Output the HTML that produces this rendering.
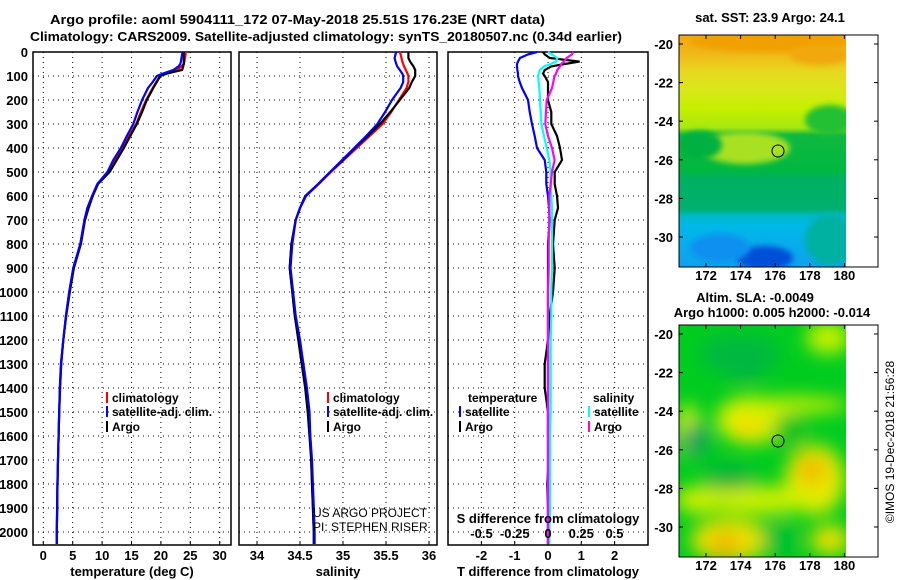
<!DOCTYPE html>
<html><head><meta charset="utf-8">
<style>
html,body{margin:0;padding:0;background:#fff;}
svg{display:block;font-family:"Liberation Sans",Arial,sans-serif;}
.t{font-weight:bold;font-size:13px;fill:#000;}
.s{font-weight:bold;font-size:12px;fill:#000;}
</style></head>
<body>
<svg id="fig" width="900" height="580" viewBox="0 0 900 580" xmlns="http://www.w3.org/2000/svg">
<defs>
<filter id="bl" x="-50%" y="-50%" width="200%" height="200%"><feGaussianBlur stdDeviation="9"/></filter>
<filter id="bl2" x="-50%" y="-50%" width="200%" height="200%"><feGaussianBlur stdDeviation="3"/></filter>
<clipPath id="c1"><rect x="679" y="35" width="167" height="232"/></clipPath>
<clipPath id="c2"><rect x="679" y="325" width="167" height="232"/></clipPath>
<linearGradient id="sst" x1="0" y1="0" x2="0" y2="1">
<stop offset="0" stop-color="#f2a810"/><stop offset="0.08" stop-color="#f0b818"/>
<stop offset="0.16" stop-color="#e8d820"/><stop offset="0.24" stop-color="#d8e818"/>
<stop offset="0.32" stop-color="#c4f000"/>
<stop offset="0.4" stop-color="#a8e810"/><stop offset="0.43" stop-color="#10b840"/>
<stop offset="0.58" stop-color="#00b840"/><stop offset="0.62" stop-color="#00b060"/>
<stop offset="0.75" stop-color="#00b070"/><stop offset="0.78" stop-color="#00b8c8"/>
<stop offset="0.82" stop-color="#00b8e8"/><stop offset="1" stop-color="#10a0f0"/>
</linearGradient>
</defs>
<rect x="0" y="0" width="900" height="580" fill="#fff"/>
<text class="t" x="50" y="24" textLength="495" lengthAdjust="spacingAndGlyphs">Argo profile: aoml 5904111_172 07-May-2018 25.51S 176.23E (NRT data)</text>
<text class="t" x="30" y="41" textLength="592" lengthAdjust="spacingAndGlyphs">Climatology: CARS2009. Satellite-adjusted climatology: synTS_20180507.nc (0.34d earlier)</text>

<g id="p1"></g>
<g id="p2"></g>
<g id="p3"></g>

<!-- SST map -->
<g>
<text class="t" x="770" y="22" text-anchor="middle">sat. SST: 23.9 Argo: 24.1</text>
<g clip-path="url(#c1)">
<rect x="679" y="35" width="167" height="232" fill="url(#sst)"/>
<ellipse cx="745" cy="148" rx="45" ry="16" fill="#a8e020" filter="url(#bl2)"/>
<ellipse cx="700" cy="145" rx="22" ry="14" fill="#00b040" filter="url(#bl2)"/>
<ellipse cx="830" cy="120" rx="25" ry="15" fill="#20c030" filter="url(#bl2)"/>
<ellipse cx="770" cy="42" rx="80" ry="10" fill="#f0a000" filter="url(#bl2)"/>
<ellipse cx="820" cy="55" rx="30" ry="10" fill="#f0a810" filter="url(#bl2)"/>
<ellipse cx="765" cy="258" rx="28" ry="12" fill="#0050d8" filter="url(#bl2)"/>
<ellipse cx="720" cy="248" rx="30" ry="14" fill="#1090f0" filter="url(#bl2)"/>
<ellipse cx="830" cy="240" rx="25" ry="25" fill="#00b0a0" filter="url(#bl2)"/>
</g>
<rect x="846" y="35" width="32" height="232" fill="#fff"/>
<rect x="679" y="35" width="199" height="232" fill="none" stroke="#000" stroke-width="1"/>
<circle cx="778" cy="151" r="6" fill="none" stroke="#000" stroke-width="1"/>
</g>
<!-- SLA map -->
<g>
<text class="t" x="755" y="302" text-anchor="middle">Altim. SLA: -0.0049</text>
<text class="t" x="772" y="317" text-anchor="middle">Argo h1000: 0.005 h2000: -0.014</text>
<g clip-path="url(#c2)">
<rect x="679" y="325" width="167" height="232" fill="#00cc20"/>
<g filter="url(#bl)">
<ellipse cx="752" cy="420" rx="36" ry="24" fill="#d8f000"/>
<ellipse cx="748" cy="428" rx="16" ry="13" fill="#f0e000"/>
<ellipse cx="688" cy="430" rx="12" ry="26" fill="#d8f000"/>
<ellipse cx="795" cy="405" rx="55" ry="8" fill="#c8f000"/>
<ellipse cx="828" cy="338" rx="22" ry="16" fill="#c8f000"/>
<ellipse cx="815" cy="480" rx="30" ry="35" fill="#e8e800"/>
<ellipse cx="812" cy="470" rx="14" ry="14" fill="#f0b800"/>
<ellipse cx="760" cy="500" rx="60" ry="14" fill="#d0f000"/>
<ellipse cx="700" cy="500" rx="25" ry="14" fill="#d0f000"/>
<ellipse cx="730" cy="540" rx="40" ry="22" fill="#e8e000"/>
<ellipse cx="725" cy="545" rx="14" ry="12" fill="#f0b000"/>
<ellipse cx="830" cy="540" rx="20" ry="15" fill="#e8e000"/>
<ellipse cx="780" cy="540" rx="18" ry="18" fill="#00c030"/>
<ellipse cx="745" cy="365" rx="20" ry="14" fill="#00a060"/>
<ellipse cx="740" cy="355" rx="40" ry="20" fill="#00b840"/>
<ellipse cx="695" cy="440" rx="14" ry="16" fill="#10a060"/>
<ellipse cx="730" cy="478" rx="25" ry="12" fill="#00b040"/>
<ellipse cx="790" cy="430" rx="16" ry="16" fill="#00c020"/>
</g>
</g>
<rect x="846" y="325" width="32" height="232" fill="#fff"/>
<rect x="679" y="325" width="199" height="232" fill="none" stroke="#000" stroke-width="1"/>
<circle cx="778" cy="441" r="6" fill="none" stroke="#000" stroke-width="1"/>
</g>
<g id="maxes"></g>
<text class="s" transform="translate(894,442) rotate(-90)" text-anchor="middle" style="font-weight:normal;font-size:12px">©IMOS 19-Dec-2018 21:56:28</text>
</svg>
<script>
const depths = [0,10,25,40,50,60,75,90,100,125,150,200,250,300,350,400,450,500,550,600,650,700,800,900,1000,1100,1200,1300,1400,1500,1600,1700,1800,1900,2000,2050];
const tempClim = [24.2,24.2,24.1,24.0,23.9,23.5,22.7,21.0,19.8,19.2,18.6,17.5,16.6,15.8,14.6,13.5,12.2,11.1,9.2,8.3,7.5,7.0,6.3,5.1,4.4,3.85,3.4,3.05,2.85,2.7,2.6,2.5,2.42,2.36,2.3,2.3];
const tempSat = [23.7,23.6,23.5,23.4,23.3,23.0,22.1,20.3,19.3,18.6,17.8,16.8,16.0,15.3,14.2,13.2,11.9,10.9,9.2,8.3,7.5,7.0,6.3,5.1,4.4,3.85,3.4,3.05,2.85,2.7,2.6,2.5,2.42,2.36,2.3,2.3];
const tempArgo = [23.9,23.9,23.9,23.9,23.9,23.8,23.6,21.0,19.9,19.3,18.7,17.6,16.8,15.9,14.8,13.7,12.5,11.3,9.3,8.4,7.7,7.1,6.4,5.2,4.5,3.9,3.4,3.0,2.8,2.7,2.6,2.5,2.4,2.35,2.3,2.3];
const salClim = [35.66,35.67,35.68,35.69,35.7,35.71,35.73,35.75,35.76,35.76,35.74,35.65,35.56,35.46,35.31,35.16,35.01,34.86,34.72,34.57,34.5,34.45,34.4,34.38,34.41,34.44,34.49,34.53,34.57,34.6,34.62,34.63,34.64,34.65,34.66,34.66];
const salSat = [35.62,35.61,35.6,35.61,35.62,35.63,35.66,35.69,35.7,35.7,35.67,35.57,35.49,35.4,35.27,35.13,34.99,34.85,34.71,34.57,34.5,34.45,34.41,34.39,34.42,34.45,34.5,34.54,34.58,34.61,34.62,34.64,34.65,34.66,34.67,34.67];
const salArgo = [35.76,35.76,35.76,35.78,35.8,35.82,35.84,35.84,35.84,35.8,35.77,35.66,35.55,35.43,35.29,35.14,35.0,34.85,34.71,34.56,34.5,34.45,34.4,34.38,34.41,34.44,34.48,34.52,34.56,34.59,34.61,34.63,34.64,34.65,34.66,34.66];
const dTsat = [-0.33,-0.6,-0.84,-0.9,-0.93,-0.93,-0.92,-0.9,-0.9,-0.85,-0.78,-0.6,-0.55,-0.48,-0.4,-0.33,-0.1,-0.05,-0.05,0,0.03,0.05,0,0,0,0,0,0,0,0,0,0,0,0,0,0];
const dTargo = [-0.15,-0.1,0.05,0.95,0.5,0.1,-0.1,-0.15,-0.1,0,0,0,0.1,0.1,0.27,0.36,0.42,0.2,0.2,0.27,0.3,0.2,0.15,0.2,0.15,0.05,0,-0.1,-0.1,0,0,0.02,-0.02,0,0,0];
const dSsat = [0,0.03,0.07,0.06,0.02,-0.03,-0.06,-0.07,-0.075,-0.07,-0.065,-0.06,-0.055,-0.05,-0.03,-0.01,0.01,0.02,0.02,0.025,0.03,0.03,0.03,0.03,0.025,0.025,0.02,0.02,0.02,0.02,0.015,0.015,0.015,0.015,0.01,0.01];
const dSargo = [0.19,0.18,0.14,0.12,0.1,0.09,0.07,0.06,0.05,0.04,0.03,-0.01,-0.015,-0.02,0,0.03,0.05,0.03,0.02,0.01,0.01,0.01,0.005,0.005,0,0,0,0,0,0,0,0,0,0,0,0];
const depthTicks = [0,100,200,300,400,500,600,700,800,900,1000,1100,1200,1300,1400,1500,1600,1700,1800,1900,2000];
const tempTicks = [0,5,10,15,20,25,30];
const salTicks = [34,34.5,35,35.5,36];
const salTickLabels = ["34","34.5","35","35.5","36"];
const dTTicks = [-2,-1,0,1,2];
const dSTicks = [-0.5,-0.25,0,0.25,0.5];
const dSTickLabels = ["-0.5","-0.25","0","0.25","0.5"];
const latTicks = [-20,-22,-24,-26,-28,-30];
const lonTicks = [172,174,176,178,180];

const NS='http://www.w3.org/2000/svg';
const yD = d => 52 + d*0.24;
const xT = t => 43.3 + t*5.88;
const xS = s => 257 + (s-34)*86;
const xDT = t => 548 + t*33.3;
const xDS = s => 548 + s*133;
const TOP=52, BOT=545;
function mk(tag, attrs, parent){const e=document.createElementNS(NS,tag);for(const k in attrs)e.setAttribute(k,attrs[k]);parent.appendChild(e);return e;}
function txt(parent, x, y, s, cls, anchor){const e=mk('text',{x:x,y:y,'class':cls,'text-anchor':anchor||'middle'},parent);e.textContent=s;return e;}

function panel(g, x0, x1, vgrid, name){
  depthTicks.forEach(d=>{
    const l=mk('line',{x1:x0,x2:x1,y1:yD(d),y2:yD(d),stroke:'#000','stroke-width':1,'stroke-dasharray':'1,4'},g);
    
    
  });
  vgrid.forEach(x=>{
    const l=mk('line',{x1:x,x2:x,y1:TOP,y2:BOT,stroke:'#000','stroke-width':1,'stroke-dasharray':'1,4'},g);
    
    
    mk('line',{x1:x,x2:x,y1:BOT,y2:BOT-4,stroke:'#000'},g);
  });
  const f=mk('rect',{x:x0,y:TOP,width:x1-x0,height:BOT-TOP,fill:'none',stroke:'#000','stroke-width':1.5},g);
  
  
}
function line(g, xs, fx, color, name){
  const pts = xs.map((v,i)=>fx(v).toFixed(1)+','+yD(depths[i]).toFixed(1)).join(' ');
  const p=mk('polyline',{points:pts,fill:'none',stroke:color,'stroke-width':2.2,'stroke-linejoin':'miter'},g);
  
  
}
function legend(g, x, y, color, label, name){
  mk('rect',{x:x,y:y-10,width:2,height:11,fill:color},g);
  const t=txt(g, x+6, y, label, 's', 'start');
  
  
}

// Panel 1
const p1=document.getElementById('p1');
panel(p1, 33, 231, tempTicks.map(xT), 'temperature');
depthTicks.forEach(d=>{const t=txt(p1, 28, yD(d)+5, String(d), 't', 'end');
  
  });
tempTicks.forEach(v=>{const t=txt(p1, xT(v), 560, String(v), 't');
  
  });
{const t=txt(p1, 132, 576, 'temperature (deg C)', 't');
  }
line(p1, tempClim, xT, '#ff0000', 'temperature-climatology-line');
line(p1, tempArgo, xT, '#000000', 'temperature-argo-line');
line(p1, tempSat, xT, '#0000ff', 'temperature-satellite-line');
legend(p1, 106, 402, '#ff0000', 'climatology', 'legend-climatology');
legend(p1, 106, 416, '#0000ff', 'satellite-adj. clim.', 'legend-satellite-adj');
legend(p1, 106, 431, '#000000', 'Argo', 'legend-argo');

// Panel 2
const p2=document.getElementById('p2');
panel(p2, 239, 437, salTicks.map(xS), 'salinity');
salTicks.forEach((v,i)=>{const t=txt(p2, xS(v), 560, salTickLabels[i], 't');
  
  });
{const t=txt(p2, 338, 576, 'salinity', 't');
  }
line(p2, salClim, xS, '#ff0000', 'salinity-climatology-line');
line(p2, salArgo, xS, '#000000', 'salinity-argo-line');
line(p2, salSat, xS, '#0000ff', 'salinity-satellite-line');
legend(p2, 327, 402, '#ff0000', 'climatology', 'legend-climatology');
legend(p2, 327, 416, '#0000ff', 'satellite-adj. clim.', 'legend-satellite-adj');
legend(p2, 327, 431, '#000000', 'Argo', 'legend-argo');
{const a=txt(p2, 313, 517, 'US ARGO PROJECT', 's', 'start'); a.style.fontWeight='normal';
  
 const b=txt(p2, 313, 531, 'PI: STEPHEN RISER', 's', 'start'); b.style.fontWeight='normal';
  }

// Panel 3
const p3=document.getElementById('p3');
panel(p3, 448, 648, dTTicks.map(xDT), 'difference');
dTTicks.forEach(v=>{const t=txt(p3, xDT(v), 560, String(v), 't');
  
  });
{const t=txt(p3, 548, 576, 'T difference from climatology', 't');
  }
line(p3, dTargo, xDT, '#000000', 't-diff-argo-line');
line(p3, dTsat, xDT, '#0000ff', 't-diff-satellite-line');
line(p3, dSsat, xDS, '#00ffff', 's-diff-satellite-line');
line(p3, dSargo, xDS, '#ff00ff', 's-diff-argo-line');
dSTicks.forEach((v,i)=>{const t=txt(p3, xDS(v), 538, dSTickLabels[i], 't');
  
  });
{const t=txt(p3, 548, 523, 'S difference from climatology', 't');
  }
{const t=txt(p3, 468, 402, 'temperature', 's', 'start');
  }
legend(p3, 459, 416, '#0000ff', 'satellite', 'legend-t-satellite');
legend(p3, 459, 431, '#000000', 'Argo', 'legend-t-argo');
{const t=txt(p3, 593, 402, 'salinity', 's', 'start');
  }
legend(p3, 588, 416, '#00ffff', 'satellite', 'legend-s-satellite');
legend(p3, 588, 431, '#ff00ff', 'Argo', 'legend-s-argo');

// Map axes
const ma=document.getElementById('maxes');
[[35,44,280],[325,334,570]].forEach(([top,lat0,ly])=>{
  latTicks.forEach(v=>{
    const y=lat0+(-20-v)*19.3;
    const t=txt(ma, 673, y+5, String(v), 't', 'end');
    
    
    mk('line',{x1:878,x2:874,y1:y,y2:y,stroke:'#000'},ma);
    mk('line',{x1:679,x2:683,y1:y,y2:y,stroke:'#000'},ma);
  });
  lonTicks.forEach(v=>{
    const x=706+(v-172)*17.3;
    const t=txt(ma, x, ly, String(v), 't');
    
    
    mk('line',{x1:x,x2:x,y1:top,y2:top+4,stroke:'#000'},ma);
    mk('line',{x1:x,x2:x,y1:top+232,y2:top+228,stroke:'#000'},ma);
  });
});
</script>
</body></html>
